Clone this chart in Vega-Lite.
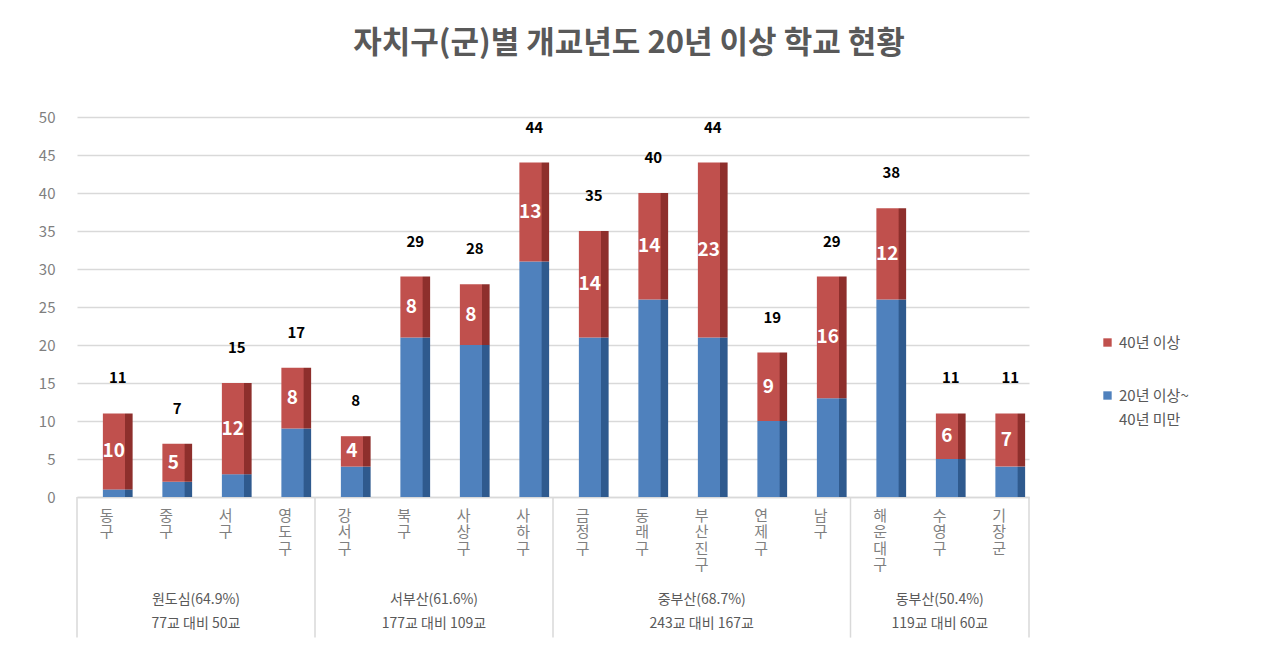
{
  "$schema": "https://vega.github.io/schema/vega-lite/v6.json",
  "width": 952,
  "height": 380,
  "padding": {"left": 38, "top": 28, "right": 5, "bottom": 0},
  "background": "white",
  "title": {
    "text": "자치구(군)별 개교년도 20년 이상 학교 현황",
    "font": "Noto Sans CJK KR",
    "fontSize": 31,
    "fontWeight": "bold",
    "color": "#595959",
    "anchor": "middle",
    "dx": 76,
    "offset": 50
  },
  "config": {
    "view": {"stroke": null},
    "font": "Noto Sans CJK KR",
    "axisY": {
      "tickCount": 12,
      "grid": true,
      "gridColor": "#D9D9D9",
      "gridWidth": 1.5,
      "domain": false,
      "ticks": false,
      "labelPadding": 22,
      "labelFontSize": 15,
      "labelColor": "#7F7F7F",
      "title": null
    },
    "style": {"guide-label": {"lineHeight": 24}}
  },
  "datasets": {
    "schools": [
      {"district": "동구", "type": "20년 이상~40년 미만", "value": 1},
      {"district": "동구", "type": "40년 이상", "value": 10},
      {"district": "중구", "type": "20년 이상~40년 미만", "value": 2},
      {"district": "중구", "type": "40년 이상", "value": 5},
      {"district": "서구", "type": "20년 이상~40년 미만", "value": 3},
      {"district": "서구", "type": "40년 이상", "value": 12},
      {"district": "영도구", "type": "20년 이상~40년 미만", "value": 9},
      {"district": "영도구", "type": "40년 이상", "value": 8},
      {"district": "강서구", "type": "20년 이상~40년 미만", "value": 4},
      {"district": "강서구", "type": "40년 이상", "value": 4},
      {"district": "북구", "type": "20년 이상~40년 미만", "value": 21},
      {"district": "북구", "type": "40년 이상", "value": 8},
      {"district": "사상구", "type": "20년 이상~40년 미만", "value": 20},
      {"district": "사상구", "type": "40년 이상", "value": 8},
      {"district": "사하구", "type": "20년 이상~40년 미만", "value": 31},
      {"district": "사하구", "type": "40년 이상", "value": 13},
      {"district": "금정구", "type": "20년 이상~40년 미만", "value": 21},
      {"district": "금정구", "type": "40년 이상", "value": 14},
      {"district": "동래구", "type": "20년 이상~40년 미만", "value": 26},
      {"district": "동래구", "type": "40년 이상", "value": 14},
      {"district": "부산진구", "type": "20년 이상~40년 미만", "value": 21},
      {"district": "부산진구", "type": "40년 이상", "value": 23},
      {"district": "연제구", "type": "20년 이상~40년 미만", "value": 10},
      {"district": "연제구", "type": "40년 이상", "value": 9},
      {"district": "남구", "type": "20년 이상~40년 미만", "value": 13},
      {"district": "남구", "type": "40년 이상", "value": 16},
      {"district": "해운대구", "type": "20년 이상~40년 미만", "value": 26},
      {"district": "해운대구", "type": "40년 이상", "value": 12},
      {"district": "수영구", "type": "20년 이상~40년 미만", "value": 5},
      {"district": "수영구", "type": "40년 이상", "value": 6},
      {"district": "기장군", "type": "20년 이상~40년 미만", "value": 4},
      {"district": "기장군", "type": "40년 이상", "value": 7}
    ],
    "groupStarts": [
      {"district": "동구"},
      {"district": "강서구"},
      {"district": "금정구"},
      {"district": "해운대구"}
    ],
    "groupEnd": [
      {"district": "기장군"}
    ],
    "groupsEven": [
      {"district": "중구", "label": "원도심(64.9%)\n77교 대비 50교"},
      {"district": "북구", "label": "서부산(61.6%)\n177교 대비 109교"}
    ],
    "groupsOdd": [
      {"district": "부산진구", "label": "중부산(68.7%)\n243교 대비 167교"},
      {"district": "수영구", "label": "동부산(50.4%)\n119교 대비 60교"}
    ]
  },
  "layer": [
    {
      "data": {"name": "schools"},
      "mark": {"type": "bar", "width": {"band": 0.5}},
      "encoding": {
        "x": {
          "field": "district",
          "type": "nominal",
          "sort": ["동구","중구","서구","영도구","강서구","북구","사상구","사하구","금정구","동래구","부산진구","연제구","남구","해운대구","수영구","기장군"],
          "scale": {
            "domain": ["동구","중구","서구","영도구","강서구","북구","사상구","사하구","금정구","동래구","부산진구","연제구","남구","해운대구","수영구","기장군"],
            "paddingInner": 0,
            "paddingOuter": 0
          },
          "axis": {
            "title": null,
            "labelAngle": 0,
            "labelExpr": "split(datum.label, '')",
            "labelLineHeight": 16.5,
            "labelFontSize": 15,
            "labelColor": "#7F7F7F",
            "labelBaseline": "top",
            "labelPadding": 11,
            "labelOverlap": false,
            "ticks": false,
            "domainColor": "#D9D9D9",
            "domainWidth": 1.5
          }
        },
        "xOffset": {"value": 11},
        "y": {
          "field": "value",
          "type": "quantitative",
          "stack": "zero",
          "title": null,
          "scale": {"domain": [0, 50], "nice": false},
          "axis": {"values": [0, 5, 10, 15, 20, 25, 30, 35, 40, 45, 50], "tickCount": 12}
        },
        "detail": {"field": "type", "type": "nominal"},
        "fill": {
          "condition": {
            "test": "datum.type == '40년 이상'",
            "value": {
              "gradient": "linear", "x1": 0, "x2": 1, "y1": 0, "y2": 0,
              "stops": [
                {"offset": 0, "color": "#C0504D"},
                {"offset": 0.74, "color": "#C0504D"},
                {"offset": 0.75, "color": "#8E2F2C"},
                {"offset": 1, "color": "#8E2F2C"}
              ]
            }
          },
          "value": {
            "gradient": "linear", "x1": 0, "x2": 1, "y1": 0, "y2": 0,
            "stops": [
              {"offset": 0, "color": "#4F81BD"},
              {"offset": 0.74, "color": "#4F81BD"},
              {"offset": 0.75, "color": "#2F5A8E"},
              {"offset": 1, "color": "#2F5A8E"}
            ]
          }
        },
        "order": {"field": "type", "sort": "ascending"}
      }
    },
    {
      "data": {"name": "schools"},
      "mark": {"type": "bar", "width": {"band": 0.5}, "opacity": 0},
      "encoding": {
        "x": {"field": "district", "type": "nominal", "sort": ["동구","중구","서구","영도구","강서구","북구","사상구","사하구","금정구","동래구","부산진구","연제구","남구","해운대구","수영구","기장군"]},
        "y": {"field": "value", "type": "quantitative", "stack": "zero", "title": null, "axis": {"values": [0, 5, 10, 15, 20, 25, 30, 35, 40, 45, 50], "tickCount": 12}},
        "color": {
          "field": "type",
          "type": "nominal",
          "scale": {"domain": ["40년 이상", "20년 이상~40년 미만"], "range": ["#C0504D", "#4F81BD"]},
          "legend": {
            "title": null,
            "orient": "none",
            "legendX": 1023,
            "legendY": 218,
            "symbolType": "square",
            "symbolSize": 70,
            "symbolOpacity": 1,
            "labelFontSize": 15,
            "labelColor": "#595959",
            "rowPadding": 37,
            "labelBaseline": "middle",
            "labelExpr": "datum.label == '20년 이상~40년 미만' ? ['20년 이상~', '40년 미만'] : datum.label"
          }
        },
        "order": {"field": "type", "sort": "ascending"}
      }
    },
    {
      "data": {"name": "schools"},
      "transform": [
        {"stack": "value", "groupby": ["district"], "sort": [{"field": "type", "order": "ascending"}], "as": ["v0", "v1"]},
        {"filter": "datum.type == '40년 이상'"},
        {"fold": ["v0", "v1"], "as": ["edge", "pos"]}
      ],
      "mark": {"type": "text", "color": "white", "fontSize": 19, "fontWeight": "bold", "baseline": "middle", "dx": 7},
      "encoding": {
        "x": {"field": "district", "type": "nominal", "sort": ["동구","중구","서구","영도구","강서구","북구","사상구","사하구","금정구","동래구","부산진구","연제구","남구","해운대구","수영구","기장군"]},
        "y": {"aggregate": "mean", "field": "pos", "type": "quantitative", "title": null, "axis": {"values": [0, 5, 10, 15, 20, 25, 30, 35, 40, 45, 50], "tickCount": 12}},
        "text": {"field": "value", "type": "quantitative"}
      }
    },
    {
      "data": {"name": "schools"},
      "mark": {"type": "text", "color": "black", "fontSize": 15, "fontWeight": "bold", "baseline": "middle", "dy": -35, "dx": 11},
      "encoding": {
        "x": {"field": "district", "type": "nominal", "sort": ["동구","중구","서구","영도구","강서구","북구","사상구","사하구","금정구","동래구","부산진구","연제구","남구","해운대구","수영구","기장군"]},
        "y": {"aggregate": "sum", "field": "value", "type": "quantitative", "title": null, "axis": {"values": [0, 5, 10, 15, 20, 25, 30, 35, 40, 45, 50], "tickCount": 12}},
        "text": {"aggregate": "sum", "field": "value", "type": "quantitative"}
      }
    },
    {
      "data": {"name": "groupStarts"},
      "mark": {"type": "rule", "color": "#D9D9D9", "strokeWidth": 1.5},
      "encoding": {
        "x": {"field": "district", "type": "nominal", "bandPosition": 0, "sort": ["동구","중구","서구","영도구","강서구","북구","사상구","사하구","금정구","동래구","부산진구","연제구","남구","해운대구","수영구","기장군"]},
        "y": {"datum": 0, "type": "quantitative", "title": null, "axis": {"values": [0, 5, 10, 15, 20, 25, 30, 35, 40, 45, 50], "tickCount": 12}},
        "y2": {"datum": -18.5}
      }
    },
    {
      "data": {"name": "groupEnd"},
      "mark": {"type": "rule", "color": "#D9D9D9", "strokeWidth": 1.5},
      "encoding": {
        "x": {"field": "district", "type": "nominal", "bandPosition": 1, "sort": ["동구","중구","서구","영도구","강서구","북구","사상구","사하구","금정구","동래구","부산진구","연제구","남구","해운대구","수영구","기장군"]},
        "y": {"datum": 0, "type": "quantitative", "title": null, "axis": {"values": [0, 5, 10, 15, 20, 25, 30, 35, 40, 45, 50], "tickCount": 12}},
        "y2": {"datum": -18.5}
      }
    },
    {
      "data": {"name": "groupsEven"},
      "mark": {"type": "text", "color": "#595959", "fontSize": 14, "align": "center", "baseline": "top", "lineBreak": "\n", "lineHeight": 24},
      "encoding": {
        "x": {"field": "district", "type": "nominal", "bandPosition": 1, "sort": ["동구","중구","서구","영도구","강서구","북구","사상구","사하구","금정구","동래구","부산진구","연제구","남구","해운대구","수영구","기장군"]},
        "y": {"datum": -12.6, "type": "quantitative", "title": null, "axis": {"values": [0, 5, 10, 15, 20, 25, 30, 35, 40, 45, 50], "tickCount": 12}},
        "text": {"field": "label", "type": "nominal"}
      }
    },
    {
      "data": {"name": "groupsOdd"},
      "mark": {"type": "text", "color": "#595959", "fontSize": 14, "align": "center", "baseline": "top", "lineBreak": "\n", "lineHeight": 24},
      "encoding": {
        "x": {"field": "district", "type": "nominal", "bandPosition": 0.5, "sort": ["동구","중구","서구","영도구","강서구","북구","사상구","사하구","금정구","동래구","부산진구","연제구","남구","해운대구","수영구","기장군"]},
        "y": {"datum": -12.6, "type": "quantitative", "title": null, "axis": {"values": [0, 5, 10, 15, 20, 25, 30, 35, 40, 45, 50], "tickCount": 12}},
        "text": {"field": "label", "type": "nominal"}
      }
    }
  ]
}
